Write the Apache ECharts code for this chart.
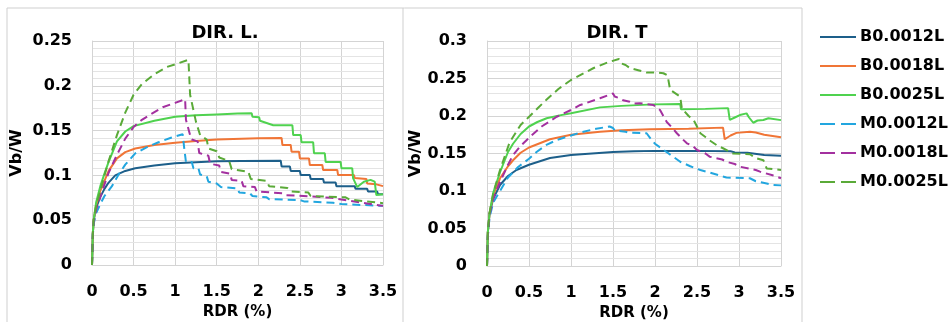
<!DOCTYPE html>
<html>
<head>
<meta charset="utf-8">
<script src="https://cdn.jsdelivr.net/npm/echarts@6/dist/echarts.min.js"></script>
<style>
html,body{margin:0;padding:0;background:#fff;}
#chart{width:951px;height:322px;}
</style>
</head>
<body>
<div id="chart"></div>
<script>
// ---------- DATA ----------
var seriesNames = ['B0.0012L','B0.0018L','B0.0025L','M0.0012L','M0.0018L','M0.0025L'];
var panelTitles = ['DIR. L.','DIR. T'];
var xTicks = [0,0.5,1,1.5,2,2.5,3,3.5];
var yTicksL = [0,0.05,0.1,0.15,0.2,0.25];
var yTicksT = [0,0.05,0.1,0.15,0.2,0.25,0.3];

// DIR. L. panel  ([RDR %, Vb/W])
var L_B12 = [[0,0],[0.01,0.035],[0.02,0.05],[0.05,0.064],[0.1,0.076],[0.15,0.085],[0.2,0.092],[0.28,0.1],[0.4,0.105],[0.52,0.108],[0.75,0.111],[1.0,0.1135],[1.25,0.1148],[1.5,0.1158],[1.8,0.1162],[2.27,0.1164],[2.28,0.110],[2.38,0.110],[2.39,0.105],[2.5,0.105],[2.51,0.1004],[2.62,0.1004],[2.63,0.096],[2.78,0.096],[2.79,0.092],[2.93,0.092],[2.94,0.088],[3.16,0.088],[3.17,0.085],[3.31,0.085],[3.32,0.082],[3.43,0.082],[3.44,0.079],[3.5,0.079]];
var L_B18 = [[0,0],[0.01,0.035],[0.02,0.05],[0.05,0.067],[0.1,0.083],[0.15,0.094],[0.2,0.105],[0.3,0.119],[0.4,0.126],[0.52,0.130],[0.75,0.134],[1.0,0.1365],[1.25,0.1385],[1.5,0.140],[1.8,0.141],[2.0,0.1415],[2.28,0.1418],[2.29,0.134],[2.39,0.134],[2.40,0.1265],[2.49,0.1265],[2.5,0.119],[2.61,0.119],[2.62,0.1116],[2.77,0.1116],[2.78,0.106],[2.95,0.106],[2.96,0.1004],[3.15,0.1004],[3.16,0.097],[3.3,0.096],[3.31,0.091],[3.42,0.09],[3.43,0.088],[3.5,0.088]];
var L_B25 = [[0,0],[0.01,0.035],[0.02,0.05],[0.05,0.07],[0.1,0.088],[0.15,0.102],[0.2,0.115],[0.3,0.138],[0.4,0.149],[0.5,0.155],[0.75,0.161],[1.0,0.1655],[1.25,0.167],[1.5,0.168],[1.75,0.169],[1.92,0.1695],[1.93,0.1655],[2.01,0.165],[2.02,0.161],[2.18,0.156],[2.41,0.156],[2.42,0.145],[2.51,0.145],[2.52,0.137],[2.66,0.137],[2.67,0.1247],[2.80,0.1247],[2.81,0.115],[2.99,0.115],[3.0,0.108],[3.13,0.108],[3.14,0.097],[3.19,0.087],[3.27,0.093],[3.35,0.095],[3.4,0.093],[3.42,0.078],[3.5,0.079]];
var L_M12 = [[0,0],[0.01,0.033],[0.02,0.046],[0.05,0.058],[0.1,0.068],[0.15,0.077],[0.24,0.088],[0.32,0.101],[0.4,0.112],[0.52,0.1246],[0.65,0.131],[0.8,0.137],[0.95,0.142],[1.09,0.146],[1.11,0.13],[1.13,0.115],[1.2,0.115],[1.22,0.108],[1.28,0.108],[1.3,0.101],[1.38,0.099],[1.4,0.093],[1.5,0.091],[1.55,0.087],[1.75,0.0856],[1.77,0.081],[1.9,0.08],[1.93,0.077],[2.1,0.0755],[2.13,0.0735],[2.5,0.0725],[2.55,0.071],[2.9,0.0695],[3.0,0.068],[3.5,0.066]];
var L_M18 = [[0,0],[0.01,0.034],[0.02,0.048],[0.05,0.062],[0.1,0.076],[0.15,0.09],[0.2,0.103],[0.3,0.123],[0.4,0.141],[0.5,0.154],[0.6,0.162],[0.72,0.169],[0.85,0.176],[1.0,0.181],[1.12,0.185],[1.13,0.162],[1.18,0.145],[1.2,0.14],[1.27,0.138],[1.29,0.125],[1.4,0.122],[1.42,0.113],[1.53,0.111],[1.55,0.104],[1.66,0.102],[1.68,0.095],[1.8,0.094],[1.82,0.088],[1.96,0.087],[1.98,0.082],[2.3,0.080],[2.33,0.078],[2.48,0.0775],[2.5,0.076],[2.88,0.075],[2.9,0.073],[3.08,0.072],[3.1,0.07],[3.5,0.066]];
var L_M25 = [[0,0],[0.01,0.035],[0.02,0.05],[0.05,0.066],[0.1,0.083],[0.15,0.1],[0.2,0.116],[0.3,0.145],[0.4,0.17],[0.5,0.19],[0.6,0.202],[0.75,0.213],[0.9,0.221],[1.0,0.224],[1.16,0.229],[1.18,0.19],[1.25,0.16],[1.3,0.145],[1.38,0.14],[1.4,0.13],[1.5,0.127],[1.53,0.12],[1.65,0.116],[1.68,0.107],[1.88,0.104],[1.91,0.096],[2.1,0.094],[2.13,0.088],[2.35,0.086],[2.4,0.082],[2.6,0.081],[2.63,0.077],[3.05,0.0755],[3.1,0.073],[3.5,0.069]];

// DIR. T panel
var T_B12 = [[0,0],[0.01,0.045],[0.03,0.07],[0.075,0.09],[0.155,0.108],[0.25,0.12],[0.35,0.128],[0.5,0.135],[0.75,0.144],[1.0,0.148],[1.25,0.150],[1.5,0.152],[1.75,0.153],[2.0,0.1535],[2.5,0.1535],[2.9,0.153],[2.95,0.1515],[3.1,0.151],[3.12,0.149],[3.3,0.148],[3.32,0.147],[3.5,0.147]];
var T_B18 = [[0,0],[0.01,0.045],[0.03,0.07],[0.075,0.095],[0.155,0.117],[0.25,0.133],[0.31,0.141],[0.4,0.151],[0.5,0.158],[0.75,0.169],[1.0,0.175],[1.345,0.179],[1.6,0.181],[1.94,0.1822],[2.4,0.183],[2.81,0.1845],[2.83,0.169],[2.9,0.174],[2.97,0.1775],[3.13,0.179],[3.2,0.178],[3.3,0.175],[3.5,0.1716]];
var T_B25 = [[0,0],[0.01,0.045],[0.03,0.07],[0.075,0.098],[0.155,0.125],[0.25,0.152],[0.31,0.163],[0.4,0.176],[0.5,0.186],[0.6,0.192],[0.71,0.197],[0.85,0.2005],[1.0,0.2036],[1.345,0.2115],[1.6,0.2135],[1.98,0.2155],[2.3,0.216],[2.31,0.209],[2.6,0.2095],[2.87,0.2105],[2.89,0.1947],[2.95,0.198],[3.01,0.2013],[3.09,0.2035],[3.12,0.198],[3.17,0.191],[3.22,0.194],[3.29,0.1947],[3.35,0.197],[3.5,0.1945]];
var T_M12 = [[0,0],[0.01,0.04],[0.03,0.065],[0.075,0.085],[0.155,0.1],[0.25,0.118],[0.37,0.132],[0.5,0.143],[0.59,0.152],[0.7,0.161],[0.83,0.168],[1.0,0.174],[1.11,0.178],[1.3,0.183],[1.46,0.186],[1.5,0.184],[1.52,0.181],[1.65,0.179],[1.68,0.178],[1.9,0.177],[1.96,0.168],[2.0,0.163],[2.1,0.155],[2.2,0.147],[2.3,0.139],[2.42,0.133],[2.54,0.128],[2.7,0.123],[2.85,0.118],[3.13,0.117],[3.2,0.113],[3.33,0.11],[3.4,0.108],[3.5,0.1075]];
var T_M18 = [[0,0],[0.01,0.04],[0.03,0.068],[0.075,0.09],[0.155,0.112],[0.25,0.135],[0.31,0.148],[0.4,0.16],[0.51,0.172],[0.65,0.186],[0.83,0.199],[1.0,0.208],[1.11,0.2147],[1.345,0.2236],[1.5,0.230],[1.52,0.226],[1.58,0.2236],[1.62,0.221],[1.7,0.219],[1.75,0.2165],[1.82,0.217],[1.98,0.2147],[2.06,0.208],[2.1,0.2],[2.14,0.192],[2.2,0.185],[2.26,0.177],[2.32,0.17],[2.38,0.1636],[2.45,0.16],[2.5,0.1547],[2.6,0.15],[2.65,0.1458],[2.8,0.142],[2.85,0.139],[2.95,0.136],[3.01,0.1324],[3.2,0.128],[3.25,0.1258],[3.4,0.121],[3.5,0.117]];
var T_M25 = [[0,0],[0.01,0.045],[0.03,0.07],[0.075,0.097],[0.155,0.128],[0.27,0.165],[0.4,0.188],[0.51,0.2],[0.6,0.21],[0.71,0.222],[0.85,0.236],[1.0,0.248],[1.27,0.264],[1.45,0.272],[1.57,0.276],[1.6,0.27],[1.65,0.268],[1.7,0.264],[1.8,0.261],[1.9,0.258],[2.0,0.258],[2.1,0.257],[2.15,0.254],[2.18,0.235],[2.3,0.2257],[2.32,0.21],[2.4,0.2],[2.46,0.1947],[2.54,0.177],[2.6,0.172],[2.67,0.166],[2.75,0.16],[2.81,0.157],[2.93,0.150],[3.13,0.149],[3.2,0.144],[3.29,0.141],[3.33,0.13],[3.5,0.128]];

var dataL = [L_B12, L_B18, L_B25, L_M12, L_M18, L_M25];
var dataT = [T_B12, T_B18, T_B25, T_M12, T_M18, T_M25];

// ---------- STYLE ----------
var colors = ['#1d5f8a','#f07536','#4fd24f','#22a6df','#a3309f','#5aaa38'];
var dashed = [false,false,false,true,true,true];
var DASH = [8,5];
var FONT = 'DejaVu Sans';

function xAxisCfg(gi){
  return {
    type:'value', gridIndex:gi, min:xTicks[0], max:xTicks[xTicks.length-1], interval:0.5,
    name:'RDR (%)', nameLocation:'middle', nameGap:40,
    nameTextStyle:{fontFamily:FONT,fontWeight:'bold',fontSize:15,color:'#000'},
    axisLine:{show:true,lineStyle:{color:'#d4d4d4',width:1}},
    axisTick:{show:false},
    axisLabel:{fontFamily:FONT,fontWeight:'bold',fontSize:16,color:'#000',margin:19},
    splitLine:{show:true,lineStyle:{color:'#d4d4d4',width:1}}
  };
}
function yAxisCfg(gi,max,gap){
  return {
    type:'value', gridIndex:gi, min:0, max:max, interval:0.05, z:2,
    name:'Vb/W', nameLocation:'middle', nameGap:gap, nameRotate:90,
    nameTextStyle:{fontFamily:FONT,fontWeight:'bold',fontSize:16,color:'#000'},
    axisLine:{show:true,lineStyle:{color:'#d4d4d4',width:1}},
    axisTick:{show:false},
    axisLabel:{fontFamily:FONT,fontWeight:'bold',fontSize:16,color:'#000',margin:20},
    splitLine:{show:true,lineStyle:{color:'#d4d4d4',width:1}}
  };
}
// hidden helper axis that only draws the light minor gridlines
function yMinorCfg(gi,max,step){
  return {
    type:'value', gridIndex:gi, min:0, max:max, interval:step, z:1,
    axisLine:{show:false}, axisTick:{show:false}, axisLabel:{show:false},
    splitLine:{show:true,lineStyle:{color:'#e4e4e4',width:1}}
  };
}

var series = [];
[dataL, dataT].forEach(function(set, gi){
  set.forEach(function(d, i){
    series.push({
      name: seriesNames[i], type:'line', xAxisIndex:gi, yAxisIndex:gi,
      data:d, showSymbol:false, symbol:'none', smooth:false, animation:false, z:3,
      lineStyle:{color:colors[i], width:2, type: dashed[i] ? DASH : 'solid'},
      itemStyle:{color:colors[i]}
    });
  });
});

// legend drawn as graphic items (line sample + label)
var legendGraphics = [];
seriesNames.forEach(function(nm, i){
  var cy = 37 + 29*i;
  legendGraphics.push({type:'line', shape:{x1:820,y1:cy,x2:856,y2:cy}, silent:true,
    style:{stroke:colors[i], lineWidth:2, lineDash: dashed[i] ? [15,6] : null}});
  legendGraphics.push({type:'text', x:860, y:cy, silent:true,
    style:{text:nm, fill:'#000', font:'bold 16px "DejaVu Sans"', textVerticalAlign:'middle', verticalAlign:'middle'}});
});

var chart = echarts.init(document.getElementById('chart'), null, {renderer:'canvas'});
chart.setOption({
  backgroundColor:'#fff',
  animation:false,
  title:[
    {text:panelTitles[0], left:225, top:24, textAlign:'center', padding:0,
     textStyle:{fontFamily:FONT,fontWeight:'bold',fontSize:18,color:'#000'}},
    {text:panelTitles[1], left:617, top:24, textAlign:'center', padding:0,
     textStyle:{fontFamily:FONT,fontWeight:'bold',fontSize:18,color:'#000'}}
  ],
  grid:[
    {left:92, top:41, width:291, height:224, containLabel:false, outerBoundsMode:'none'},
    {left:487, top:41, width:294, height:225, containLabel:false, outerBoundsMode:'none'}
  ],
  xAxis:[xAxisCfg(0), xAxisCfg(1)],
  yAxis:[yAxisCfg(0,0.25,67), yAxisCfg(1,0.3,57), yMinorCfg(0,0.25,0.05/6), yMinorCfg(1,0.3,0.01)],
  graphic:[
    {type:'polyline', shape:{points:[[7,322],[7,8],[802,8],[802,322]]}, style:{stroke:'#cfcfcf',lineWidth:1,fill:null}, silent:true},
    {type:'line', shape:{x1:403,y1:8,x2:403,y2:322}, style:{stroke:'#cfcfcf',lineWidth:1}, silent:true}
  ].concat(legendGraphics),
  series:series
});
</script>
</body>
</html>
